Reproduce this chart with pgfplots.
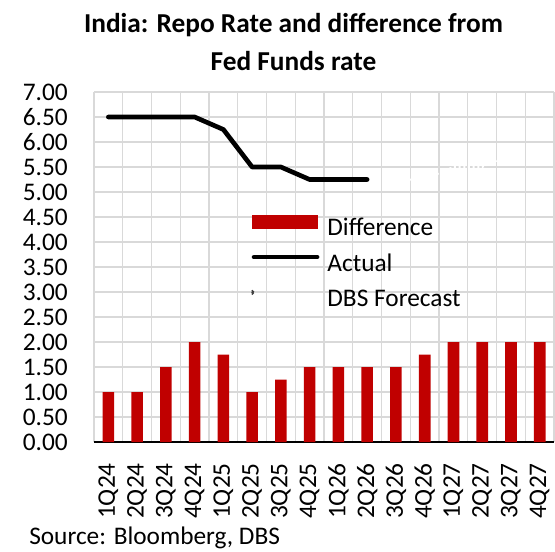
\documentclass[border=0pt]{standalone}
\usepackage{fontspec}
\setmainfont{Carlito}
\usepackage{pgfplots}
\pgfplotsset{compat=1.18}
\definecolor{barred}{HTML}{C00000}
\definecolor{gridgray}{HTML}{D9D9D9}

\begin{document}
\begin{tikzpicture}
\useasboundingbox (-70.5pt,-81.75pt) rectangle (345.75pt,331.5pt);
\begin{axis}[
  at={(0pt,0pt)}, anchor=south west,
  scale only axis, width=345pt, height=262.5pt,
  xmin=-0.5, xmax=15.5, ymin=0, ymax=7,
  xtick={0,...,15},
  xticklabels={1Q24,2Q24,3Q24,4Q24,1Q25,2Q25,3Q25,4Q25,1Q26,2Q26,3Q26,4Q26,1Q27,2Q27,3Q27,4Q27},
  minor xtick={-0.5,0.5,...,15.5},
  ytick={0,0.5,...,7},
  xminorgrids, ymajorgrids,
  grid style={gridgray, line width=1pt},
  minor grid style={gridgray, line width=1pt},
  axis x line*=bottom, axis y line*=left,
  x axis line style={black, line width=1.25pt},
  y axis line style={draw=none},
  tick align=outside,
  major tick length=0pt, minor tick length=7pt,
  minor x tick style={black, line width=1.25pt},
  ytick style={draw=none},
  xtick style={draw=none},
  tick label style={font=\fontsize{19}{22}\selectfont, inner sep=0pt},
  /pgf/number format/assume math mode=true,
  yticklabel={\pgfmathprintnumber[fixed,fixed zerofill,precision=2]{\tick}},
  yticklabel shift=19.5pt,
  xticklabel style={rotate=90, anchor=east},
  xticklabel shift=15.75pt,
  legend cell align=left,
  legend style={at={(0.339,0.65)}, anchor=north west, draw=none, fill=none,
    inner sep=0pt, row sep=8.5pt,
    font=\fontsize{19}{22}\selectfont,
    nodes={inner sep=0pt, text height=13.5pt, text depth=4.5pt},
    /tikz/every odd column/.append style={column sep=6pt}},
]
\addplot[ybar, bar width=8.8pt, fill=barred, draw=none,
  legend image code/.code={\fill[barred] (0pt,0.75pt) rectangle (49.5pt,11.25pt);}]
  coordinates {(0,1.00)(1,1.00)(2,1.50)(3,2.00)(4,1.75)(5,1.00)(6,1.25)(7,1.50)
               (8,1.50)(9,1.50)(10,1.50)(11,1.75)(12,2.00)(13,2.00)(14,2.00)(15,2.00)};
\addlegendentry{Difference}
\addplot[black, line width=3.5pt, line cap=round, line join=round,
  legend image code/.code={\draw[black, line width=3.5pt, line cap=round] (1.75pt,6pt) -- (49pt,6pt);}]
  coordinates {(0,6.50)(1,6.50)(2,6.50)(3,6.50)(4,6.25)(5,5.50)(6,5.50)(7,5.25)(8,5.25)(9,5.25)};
\addlegendentry{Actual}
\addplot[white, line width=1.5pt, dotted,
  legend image code/.code={\fill[black!75] (0.5pt,6pt) circle (0.9pt);}]
  coordinates {(10,5.25)(11,5.25)(12,5.50)(13,5.50)(14,5.75)(15,5.75)};
\addlegendentry{DBS Forecast}
\end{axis}
\node[anchor=base, font=\fontsize{20.5}{24}\selectfont\bfseries] at (149.6pt,307.5pt) {India: Repo Rate and difference from};
\node[anchor=base, font=\fontsize{20.5}{24}\selectfont\bfseries] at (149.6pt,278.5pt) {Fed Funds rate};
\node[anchor=base west, inner sep=0pt, font=\fontsize{19}{22}\selectfont] at (-48.75pt,-77pt) {Source: Bloomberg, DBS};
\end{tikzpicture}
\end{document}
